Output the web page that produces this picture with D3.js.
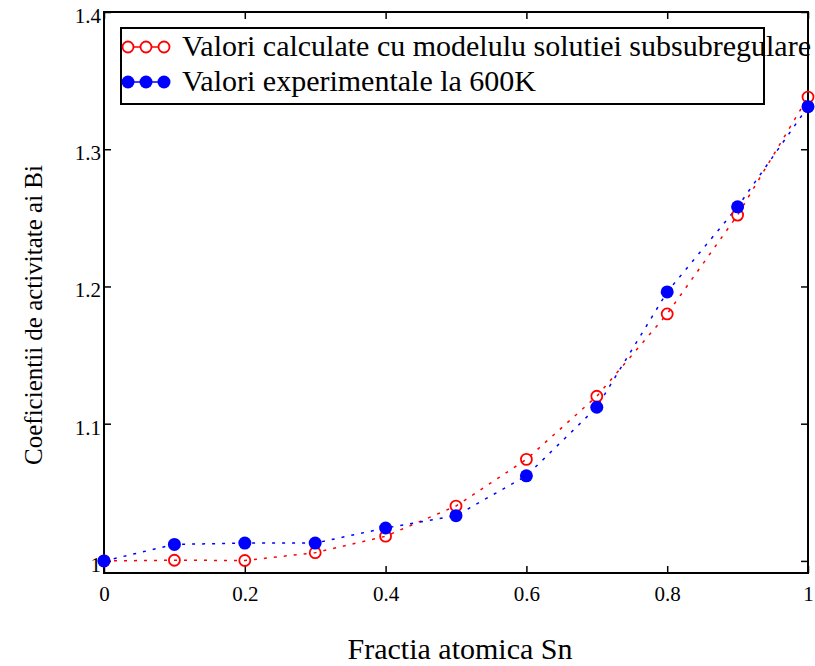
<!DOCTYPE html>
<html><head><meta charset="utf-8">
<script src="https://cdn.jsdelivr.net/npm/d3@7"></script>
<style>body{margin:0;background:#fff}svg{display:block}text{font-family:"Liberation Serif","DejaVu Serif",serif;fill:#000}</style>
</head><body><svg id="c" width="815" height="666"></svg>
<script>
const xValues = [0, 0.1, 0.2, 0.3, 0.4, 0.5, 0.6, 0.7, 0.8, 0.9, 1.0];
const calculated = [1.000, 1.0005, 1.0003, 1.006, 1.018, 1.040, 1.074, 1.120, 1.180, 1.252, 1.338];
const experimental = [1.000, 1.012, 1.013, 1.013, 1.024, 1.033, 1.062, 1.112, 1.196, 1.258, 1.331];
const xTicks = [0, 0.2, 0.4, 0.6, 0.8, 1];
const yTicks = [1, 1.1, 1.2, 1.3, 1.4];
const seriesNames = ["Valori calculate cu modelulu solutiei subsubregulare", "Valori experimentale la 600K"];
const xTitle = "Fractia atomica Sn";
const yTitle = "Coeficientii de activitate ai Bi";

const svg = d3.select("#c");
const L = 104, R = 808, T = 12, B = 573;
const x = d3.scaleLinear().domain([0, 1]).range([L, R]);
const y = d3.scaleLinear().domain([0.9912, 1.4]).range([B, T]);
const fmt = d => d === 0 ? "0" : d === 1 ? "1" : d3.format(".1f")(d);

const gx = svg.append("g").attr("transform", `translate(0,${B})`)
  .call(d3.axisBottom(x).tickValues(xTicks).tickFormat(fmt).tickSizeInner(-7).tickSizeOuter(0).tickPadding(13));
const gxTop = svg.append("g").attr("transform", `translate(0,${T})`)
  .call(d3.axisTop(x).tickValues(xTicks).tickFormat("").tickSizeInner(-7).tickSizeOuter(0));
const gy = svg.append("g").attr("transform", `translate(${L},0)`)
  .call(d3.axisLeft(y).tickValues(yTicks).tickFormat(fmt).tickSizeInner(-7).tickSizeOuter(0).tickPadding(3));
const gyR = svg.append("g").attr("transform", `translate(${R},0)`)
  .call(d3.axisRight(y).tickValues(yTicks).tickFormat("").tickSizeInner(-7).tickSizeOuter(0));
[gx, gxTop, gy, gyR].forEach(g => {
  g.attr("font-family", null).attr("font-size", null);
  g.select(".domain").remove();
  g.selectAll(".tick line").attr("stroke", "#000").attr("stroke-width", 1.5);
  g.selectAll("text").style("font-size", "21px").attr("fill", "#000");
});
gy.selectAll("text").attr("dy", "0.5em");
gx.selectAll("text").attr("dy", "0.71em");
svg.append("rect").attr("x", L).attr("y", T).attr("width", R - L).attr("height", B - T)
  .attr("fill", "none").attr("stroke", "#000").attr("stroke-width", 2);

svg.append("text").attr("x", 460).attr("y", 659).attr("text-anchor", "middle").style("font-size", "30px").text(xTitle);
svg.append("text").attr("transform", "translate(42,315) rotate(-90)").attr("text-anchor", "middle").style("font-size", "25px").text(yTitle);

const line = d3.line().x((d, i) => x(xValues[i])).y(d => y(d));
const series = [
  {vals: calculated, color: "#ff0000", fill: "none"},
  {vals: experimental, color: "#0000ff", fill: "#0000ff"}
];
series.forEach(s => {
  svg.append("path").datum(s.vals).attr("d", line).attr("fill", "none")
    .attr("stroke", s.color).attr("stroke-width", 1.5).attr("stroke-dasharray", "3,7");
});
series.forEach(s => {
  svg.append("g").selectAll("circle").data(s.vals).join("circle")
    .attr("cx", (d, i) => x(xValues[i])).attr("cy", d => y(d))
    .attr("r", s.fill === "none" ? 5.5 : 6.5)
    .attr("fill", s.fill).attr("stroke", s.color).attr("stroke-width", s.fill === "none" ? 1.8 : 0);
});

svg.append("rect").attr("x", 121).attr("y", 28).attr("width", 643).attr("height", 76)
  .attr("fill", "#fff").attr("stroke", "#000").attr("stroke-width", 2);
const legY = [47, 82];
series.forEach((s, k) => {
  svg.append("line").attr("x1", 128).attr("x2", 168).attr("y1", legY[k]).attr("y2", legY[k])
    .attr("stroke", s.color).attr("stroke-width", 1.6);
  [128, 146, 164].forEach(cx => {
    svg.append("circle").attr("cx", cx).attr("cy", legY[k]).attr("r", s.fill === "none" ? 5.5 : 6.5)
      .attr("fill", s.fill === "none" ? "#fff" : s.fill).attr("stroke", s.color)
      .attr("stroke-width", s.fill === "none" ? 1.8 : 0);
  });
  svg.append("text").attr("x", 182).attr("y", legY[k] + 9).style("font-size", "30px").text(seriesNames[k]);
});
</script></body></html>
